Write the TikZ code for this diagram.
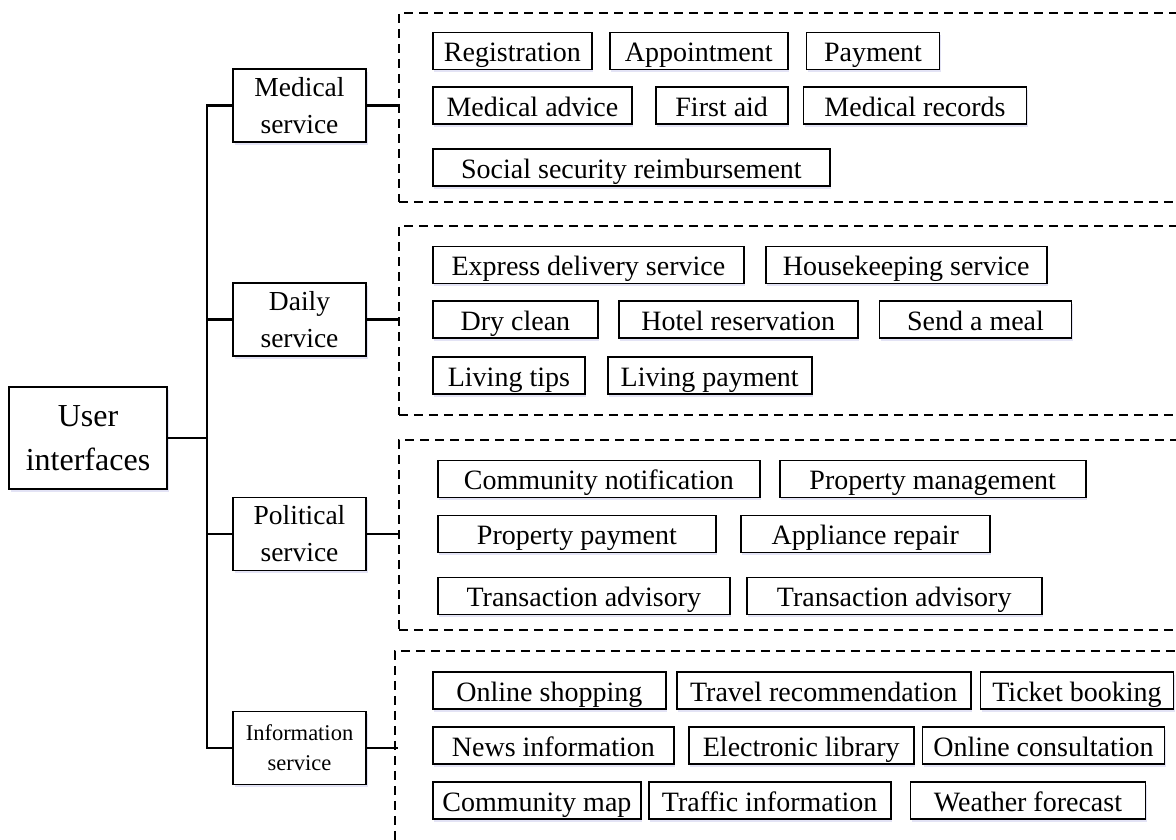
\documentclass[tikz,border=0pt]{standalone}
\usepackage{fontspec}
\setmainfont{Liberation Serif}
\usetikzlibrary{positioning,shadows}
\newcommand{\itemfont}{\fontsize{28}{34}\selectfont}
\newcommand{\servfont}{\fontsize{27.5}{37}\selectfont}
\newcommand{\rootfont}{\fontsize{32}{44}\selectfont}
\newcommand{\smallservfont}{\fontsize{22.5}{30}\selectfont}
\newcommand{\haze}{blue!45!gray}
\tikzset{
  boxshadow/.style={drop shadow={shadow xshift=1.5pt, shadow yshift=-2.5pt, opacity=.15, fill=\haze}},
  feature/.style={draw, line width=1.8pt, fill=white, minimum width=#1, minimum height=37pt,
    inner sep=0pt, text height=22pt, text depth=1pt, font=\itemfont, boxshadow},
  servbox/.style={draw, line width=1.8pt, fill=white, minimum width=133pt, minimum height=73pt,
    inner sep=0pt, align=center, font=\servfont, boxshadow},
  rootbox/.style={draw, line width=1.8pt, fill=white, minimum width=158pt, minimum height=102pt,
    inner sep=0pt, align=center, font=\rootfont, boxshadow},
  group/.style={draw, dash pattern=on 9pt off 6pt, line width=1.6pt, anchor=north west,
    minimum width=820pt, inner sep=0pt},
  link/.style={line width=2.4pt}
}
\begin{document}
\begin{tikzpicture}[x=1pt,y=-1pt]
\useasboundingbox (0,0) rectangle (1176,839);
%% root and services
\node[rootbox] (user) at (88,438) {User\\interfaces};
\node[servbox] (med) at (299.5,105.5) {Medical\\service};
\node[servbox] (daily) at (299.5,319.5) {Daily\\service};
\node[servbox] (pol) at (299.5,534) {Political\\service};
\node[servbox, font=\smallservfont] (info) at (299.5,748) {Information\\service};
\coordinate (trunk) at (207,0);
\draw[link] (med.west) -- (med.west -| trunk) -- (info.west -| trunk) -- (info.west);
\draw[link] (daily.west) -- (daily.west -| trunk);
\draw[link] (pol.west) -- (pol.west -| trunk);
\draw[link] (user.east) -- (user.east -| trunk);
%% dashed groups
\node[group, minimum height=189pt] (medgrp) at (398,12) {};
\node[group, minimum height=189pt] (dailygrp) at (398,225) {};
\node[group, minimum height=190pt] (polgrp) at (398,439) {};
\node[group, minimum height=220pt] (infogrp) at (394,650) {};
\draw[link] (med.east) -- (med.east -| medgrp.west);
\draw[link] (daily.east) -- (daily.east -| dailygrp.west);
\draw[link] (pol.east) -- (pol.east -| polgrp.west);
\draw[link] (info.east) -- (info.east -| medgrp.west);
%% medical service
\node[feature=159pt, anchor=west] (reg) at (432,51) {Registration};
\node[feature=178pt, right=16pt of reg] (appt) {Appointment};
\node[feature=133pt, right=17pt of appt] (pay) {Payment};
\node[feature=199pt, anchor=west] (advice) at (432,105.5) {Medical advice};
\node[feature=132pt, right=22pt of advice] (firstaid) {First aid};
\node[feature=223pt, right=14pt of firstaid] (records) {Medical records};
\node[feature=397pt, anchor=west] (social) at (432,167.5) {Social security reimbursement};
%% daily service
\node[feature=311pt, anchor=west] (express) at (432,265) {Express delivery service};
\node[feature=281pt, right=20pt of express] (housekeep) {Housekeeping service};
\node[feature=165pt, anchor=west] (dryclean) at (432,319.5) {Dry clean};
\node[feature=239pt, right=19pt of dryclean] (hotel) {Hotel reservation};
\node[feature=192pt, right=20pt of hotel] (meal) {Send a meal};
\node[feature=152pt, anchor=west] (tips) at (432,375.5) {Living tips};
\node[feature=204pt, right=21pt of tips] (livpay) {Living payment};
%% political service
\node[feature=322pt, anchor=west] (notif) at (437,479) {Community notification};
\node[feature=306pt, right=18pt of notif] (propmgmt) {Property management};
\node[feature=278pt, anchor=west] (proppay) at (437,534) {Property payment};
\node[feature=249pt, right=23pt of proppay] (repair) {Appliance repair};
\node[feature=292pt, anchor=west] (advisoryA) at (437,596) {Transaction advisory};
\node[feature=295pt, right=15pt of advisoryA] (advisoryB) {Transaction advisory};
%% information service
\node[feature=233pt, anchor=west] (shopping) at (432,690.5) {Online shopping};
\node[feature=294pt, right=9pt of shopping] (travel) {Travel recommendation};
\node[feature=193pt, right=8pt of travel] (ticket) {Ticket booking};
\node[feature=241pt, anchor=west] (news) at (432,745.5) {News information};
\node[feature=225pt, right=13pt of news] (library) {Electronic library};
\node[feature=242pt, right=7pt of library] (consult) {Online consultation};
\node[feature=208pt, anchor=west] (map) at (432,800.5) {Community map};
\node[feature=242pt, right=6pt of map] (traffic) {Traffic information};
\node[feature=235pt, right=18pt of traffic] (weather) {Weather forecast};
\end{tikzpicture}
\end{document}
